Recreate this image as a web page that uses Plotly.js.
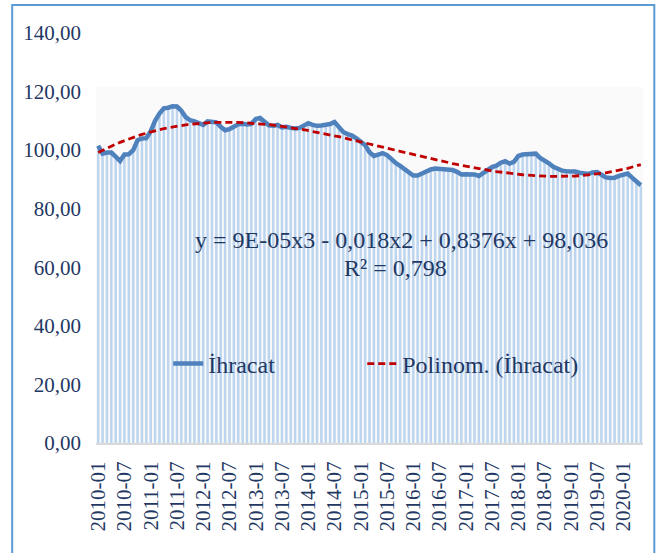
<!DOCTYPE html>
<html><head><meta charset="utf-8">
<script src="https://cdn.plot.ly/plotly-3.0.1.min.js"></script>
<style>body{margin:0;background:#fff}#chart{width:666px;height:553px}</style>
</head><body><div id="chart"></div>
<script>
const startYear = 2010, startMonth = 1;
const values = [
  101.5, 98.8, 99.2, 99.2, 97.8, 96.3, 98.5, 98.6, 100.0, 103.4, 104.0, 104.1,   // 2010
  106.5, 110.0, 112.5, 114.3, 114.5, 115.0, 114.9, 113.5, 111.3, 110.2, 109.8, 109.2, // 2011
  108.6, 109.8, 109.8, 109.5, 108.0, 106.8, 107.2, 108.0, 108.8, 109.0, 108.8, 109.0, // 2012
  110.6, 111.0, 109.8, 108.5, 108.3, 108.6, 107.8, 108.0, 107.6, 107.4, 107.6, 108.5, // 2013
  109.2, 108.6, 108.3, 108.4, 108.7, 108.9, 109.6, 107.8, 106.2, 105.5, 105.0, 104.0, // 2014
  103.0, 101.7, 99.3, 98.0, 98.5, 99.0, 98.3, 96.7, 95.6, 94.6, 93.5, 92.2,          // 2015
  91.3, 91.3, 92.0, 92.8, 93.4, 93.7, 93.5, 93.4, 93.4, 93.2, 92.6, 91.7,            // 2016
  91.8, 91.8, 91.7, 91.2, 92.2, 93.5, 94.2, 94.7, 95.7, 96.2, 95.4, 96.0,            // 2017
  98.0, 98.5, 98.5, 98.6, 98.8, 97.3, 96.5, 95.5, 94.3, 93.5, 93.0, 92.8,            // 2018
  92.9, 92.7, 92.3, 92.0, 91.9, 92.4, 92.5, 91.6, 90.7, 90.5, 90.6, 91.2,            // 2019
  91.8, 92.0, 90.6, 89.2, 88.0                                                       // 2020
];
const seriesName = 'İhracat';
const trendName = 'Polinom. (İhracat)';
const equationText = 'y = 9E-05x3 - 0,018x2 + 0,8376x + 98,036';
const r2Text = 'R² = 0,798';
const yTicks = [0, 20, 40, 60, 80, 100, 120, 140];

const months = values.map((v, i) => {
  const m = startMonth - 1 + i;
  return (startYear + Math.floor(m / 12)) + '-' + String(m % 12 + 1).padStart(2, '0');
});
const tickLabels = months.filter(m => m.endsWith('-01') || m.endsWith('-07'));

// cubic least-squares trend of the series (x = 1..n), as the spreadsheet trendline does
function cubicFit(ys) {
  const n = ys.length, deg = 3;
  const A = [], b = [];
  for (let r = 0; r <= deg; r++) {
    A.push([]); let s = 0;
    for (let c = 0; c <= deg; c++) {
      let t = 0; for (let i = 0; i < n; i++) t += Math.pow(i + 1, r + c);
      A[r].push(t);
    }
    for (let i = 0; i < n; i++) s += ys[i] * Math.pow(i + 1, r);
    b.push(s);
  }
  for (let k = 0; k <= deg; k++) {
    for (let r = k + 1; r <= deg; r++) {
      const f = A[r][k] / A[k][k];
      for (let c = k; c <= deg; c++) A[r][c] -= f * A[k][c];
      b[r] -= f * b[k];
    }
  }
  const coef = new Array(deg + 1).fill(0);
  for (let r = deg; r >= 0; r--) {
    let s = b[r]; for (let c = r + 1; c <= deg; c++) s -= A[r][c] * coef[c];
    coef[r] = s / A[r][r];
  }
  return ys.map((_, i) => coef.reduce((acc, cc, p) => acc + cc * Math.pow(i + 1, p), 0));
}
const trend = cubicFit(values);

const navy = '#1F3864';
const serif = "'Liberation Serif', 'Times New Roman', serif";
const L = 95.8, R = 642.7, T = 33, B = 443, W = 666, H = 553;
const px = x => (x - L) / (R - L);
const py = y => (B - y) / (B - T);

const traces = [
  {type: 'bar', x: months, y: values, marker: {color: '#BDD5EE'}, showlegend: false, hoverinfo: 'skip'},
  {type: 'scatter', mode: 'lines', x: months, y: values, name: seriesName, legend: 'legend',
   line: {color: '#4F81BD', width: 4.5}},
  {type: 'scatter', mode: 'lines', x: months, y: trend, name: trendName, legend: 'legend2',
   line: {color: '#C00000', width: 2.8, dash: '7px,4px'}}
];

const legendStyle = {orientation: 'h', xanchor: 'left', y: py(364), yanchor: 'middle',
  bgcolor: 'rgba(0,0,0,0)', font: {family: serif, color: navy, size: 24}};

const layout = {
  width: W, height: H,
  margin: {l: L, r: W - R, t: T, b: H - B, pad: 0},
  paper_bgcolor: '#fff', plot_bgcolor: '#fff',
  separators: ',.',
  font: {family: serif, color: navy, size: 21},
  bargap: 0.42,
  xaxis: {type: 'category', range: [-0.5, values.length - 0.5], tickmode: 'array',
    tickvals: tickLabels, ticktext: tickLabels, tickangle: -90, ticks: '',
    showgrid: false, zeroline: false, showline: true, linecolor: '#D9D9D9', linewidth: 2,
    ticklabelstandoff: 8, tickfont: {family: serif, color: navy, size: 21}},
  yaxis: {range: [0, 140], tickmode: 'array', tickvals: yTicks, tickformat: '.2f', ticks: '',
    showgrid: false, zeroline: false, showline: false, ticklabelstandoff: 14,
    tickfont: {family: serif, color: navy, size: 21}},
  legend: Object.assign({x: px(168)}, legendStyle),
  legend2: Object.assign({x: px(362)}, legendStyle),
  annotations: [
    {xref: 'paper', yref: 'paper', x: px(401), y: py(240), text: equationText, showarrow: false,
     font: {family: serif, color: navy, size: 24}},
    {xref: 'paper', yref: 'paper', x: px(395), y: py(268), text: r2Text, showarrow: false,
     font: {family: serif, color: navy, size: 24}}
  ],
  shapes: [
    {type: 'rect', xref: 'paper', yref: 'y', x0: 0, x1: 1, y0: 0, y1: 121.5, layer: 'below',
     line: {width: 0}, fillcolor: '#FAFAFA'},
    {type: 'rect', xref: 'paper', yref: 'paper', x0: px(12), x1: px(654), y0: py(5), y1: py(575),
     line: {color: '#5B9BD5', width: 2}, fillcolor: 'rgba(0,0,0,0)'}
  ]
};

Plotly.newPlot('chart', traces, layout, {displayModeBar: false, staticPlot: true});
</script>
</body></html>
